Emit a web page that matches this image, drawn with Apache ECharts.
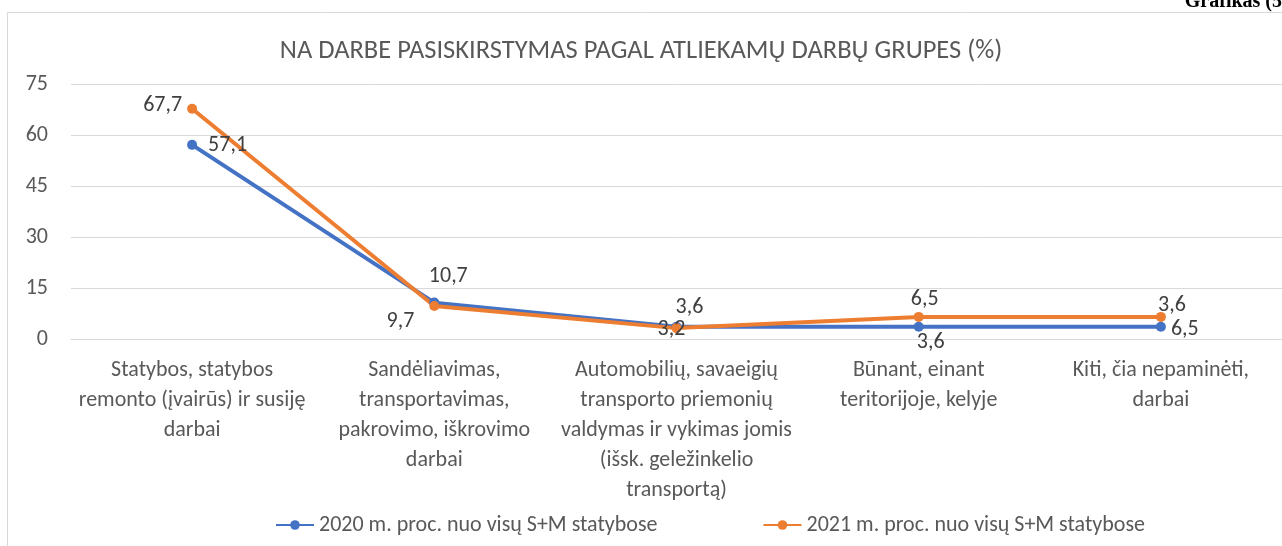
<!DOCTYPE html>
<html>
<head>
<meta charset="utf-8">
<script src="https://cdn.jsdelivr.net/npm/echarts@6/dist/echarts.min.js"></script>
<style>
  html, body { margin: 0; padding: 0; background: #fff; }
  #chart { width: 1282px; height: 546px; }
</style>
</head>
<body>
<div id="chart"></div>
<script>
var categories = [
  'Statybos, statybos\nremonto (įvairūs) ir susiję\ndarbai',
  'Sandėliavimas,\ntransportavimas,\npakrovimo, iškrovimo\ndarbai',
  'Automobilių, savaeigių\ntransporto priemonių\nvaldymas ir vykimas jomis\n(išsk. geležinkelio\ntransportą)',
  'Būnant, einant\nteritorijoje, kelyje',
  'Kiti, čia nepaminėti,\ndarbai'
];
var seriesNames = ['2020 m. proc. nuo visų S+M statybose', '2021 m. proc. nuo visų S+M statybose'];
var values2020 = [57.1, 10.7, 3.6, 3.6, 3.6];
var values2021 = [67.7, 9.7, 3.2, 6.5, 6.5];
// label texts as printed on the original (last two are swapped there)
var labels2020 = ['57,1', '10,7', '3,6', '3,6', '6,5'];
var labels2021 = ['67,7', '9,7', '3,2', '6,5', '3,6'];
var yTicks = [0, 15, 30, 45, 60, 75];

var FONT = 'Carlito, "Open Sans", sans-serif';
var TXT = '#404040';

// label placement per point
var pos2020 = [
  { position: 'right', distance: 11, offset: [0, 1] },
  { position: 'top', distance: 10, offset: [14, 0] },
  { position: 'top', distance: 3, offset: [13, 0] },
  { position: 'bottom', distance: 0, offset: [12, 0] },
  { position: 'right', distance: 5, offset: [0, 3] }
];
var pos2021 = [
  { position: 'left', distance: 5, offset: [0, -3] },
  { position: 'left', distance: 15, offset: [0, 15] },
  { position: 'inside', distance: 0, offset: [-5, 1] },
  { position: 'top', distance: 0, offset: [6, -1] },
  { position: 'top', distance: 0, offset: [11, 5] }
];

function buildData(vals, labels, pos) {
  return vals.map(function (v, i) {
    return {
      value: v,
      label: {
        formatter: labels[i],
        position: pos[i].position,
        distance: pos[i].distance,
        offset: pos[i].offset
      }
    };
  });
}

var chart = echarts.init(document.getElementById('chart'));
chart.setOption({
  animation: false,
  textStyle: { fontFamily: FONT },
  title: {
    text: 'NA DARBE PASISKIRSTYMAS PAGAL ATLIEKAMŲ DARBŲ GRUPES (%)',
    left: 'center',
    top: 33,
    textStyle: { fontFamily: FONT, fontSize: 26.5, fontWeight: 'normal', color: '#595959' }
  },
  graphic: [
    {
      type: 'rect',
      shape: { x: 7.5, y: 12.5, width: 1300, height: 600 },
      style: { fill: 'none', stroke: '#d9d9d9', lineWidth: 1 }
    },
    {
      type: 'text',
      right: 0,
      top: -8,
      style: { text: 'Grafikas (5', font: 'bold 20px "Liberation Serif", serif', fill: '#000' }
    }
  ],
  legend: {
    bottom: 5,
    left: 270,
    itemWidth: 38,
    itemHeight: 12,
    itemGap: 105,
    textStyle: { fontFamily: FONT, fontSize: 22, color: '#595959' },
    data: seriesNames
  },
  grid: { left: 71, right: -2, top: 84, bottom: 207, containLabel: false },
  xAxis: {
    type: 'category',
    data: categories,
    axisLine: { show: true, lineStyle: { color: '#d9d9d9' } },
    axisTick: { show: false },
    axisLabel: {
      interval: 0,
      margin: 16,
      fontFamily: FONT,
      fontSize: 22,
      lineHeight: 30,
      color: '#595959'
    }
  },
  yAxis: {
    type: 'value',
    min: yTicks[0],
    max: yTicks[yTicks.length - 1],
    interval: 15,
    axisLine: { show: false },
    axisTick: { show: false },
    splitLine: { lineStyle: { color: '#d9d9d9' } },
    axisLabel: { margin: 23, fontFamily: FONT, fontSize: 22, color: '#595959' }
  },
  series: [
    {
      name: seriesNames[0],
      type: 'line',
      data: buildData(values2020, labels2020, pos2020),
      symbol: 'circle',
      symbolSize: 10,
      lineStyle: { width: 4, color: '#4472c4' },
      itemStyle: { color: '#4472c4' },
      label: { show: true, fontFamily: FONT, fontSize: 22, color: TXT }
    },
    {
      name: seriesNames[1],
      type: 'line',
      data: buildData(values2021, labels2021, pos2021),
      symbol: 'circle',
      symbolSize: 10,
      lineStyle: { width: 4, color: '#ed7d31' },
      itemStyle: { color: '#ed7d31' },
      label: { show: true, fontFamily: FONT, fontSize: 22, color: TXT }
    }
  ]
});
</script>
</body>
</html>
